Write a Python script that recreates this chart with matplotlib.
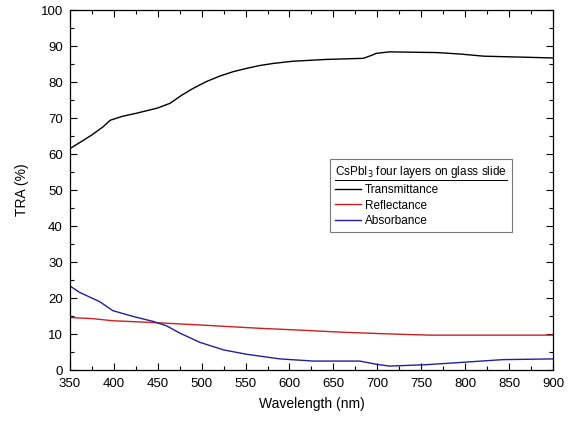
import matplotlib
matplotlib.use('Agg')
import matplotlib.pyplot as plt
from matplotlib.ticker import MultipleLocator

plt.rcParams['font.family'] = ['Liberation Sans', 'DejaVu Sans']

# Data
wl_t = [350, 362, 375, 388, 396, 410, 425, 450, 464, 477, 490, 505, 521, 536, 551, 566, 582, 604, 642, 684, 692, 699, 714, 740, 768, 794, 821, 870, 900]
trans = [61.5, 63.3, 65.3, 67.6, 69.4, 70.5, 71.3, 72.8, 74.1, 76.3, 78.2, 80.1, 81.7, 82.9, 83.8, 84.6, 85.2, 85.8, 86.3, 86.6, 87.3, 88.0, 88.4, 88.3, 88.2, 87.8, 87.2, 86.9, 86.7]

wl_r = [350, 375, 399, 445, 500, 566, 620, 661, 718, 760, 800, 850, 900]
refl = [14.6, 14.3, 13.7, 13.2, 12.5, 11.6, 11.0, 10.5, 10.0, 9.7, 9.7, 9.7, 9.7]

wl_a = [350, 361, 384, 399, 422, 445, 460, 475, 498, 525, 551, 589, 627, 680, 699, 714, 756, 794, 843, 900]
absb = [23.4, 21.6, 19.0, 16.5, 14.9, 13.5, 12.3, 10.3, 7.7, 5.6, 4.4, 3.1, 2.5, 2.5, 1.6, 1.1, 1.5, 2.1, 2.9, 3.1]

fig = plt.figure(figsize=(5.72, 4.21), dpi=100)
ax = fig.add_axes([0.122, 0.121, 0.845, 0.855])

ax.plot(wl_t, trans, color='black', lw=1, label='Transmittance')
ax.plot(wl_r, refl, color='#cc2020', lw=1, label='Reflectance')
ax.plot(wl_a, absb, color='#2020a0', lw=1, label='Absorbance')

ax.set_xlim(350, 900)
ax.set_ylim(0, 100)
ax.xaxis.set_major_locator(MultipleLocator(50))
ax.xaxis.set_minor_locator(MultipleLocator(25))
ax.yaxis.set_major_locator(MultipleLocator(10))
ax.yaxis.set_minor_locator(MultipleLocator(5))
ax.tick_params(which='both', direction='in', top=True, right=True, labelsize=9.5, width=0.8)
ax.tick_params(which='major', length=5)
ax.tick_params(which='minor', length=3)
ax.tick_params(axis='x', which='major', pad=6)
ax.tick_params(axis='y', which='major', pad=5)
for s in ax.spines.values():
    s.set_linewidth(0.9)

ax.set_xlabel('Wavelength (nm)', fontsize=10, labelpad=5)
ax.set_ylabel('TRA (%)', fontsize=10, labelpad=8)

leg = ax.legend(title=r'CsPbI$_3$ four layers on glass slide', loc='upper left',
                bbox_to_anchor=(0.538, 0.586), borderaxespad=0,
                fontsize=8.5, title_fontsize=8.5,
                frameon=True, fancybox=False, edgecolor='#555555',
                handlelength=2.2, handletextpad=0.3, labelspacing=0.3,
                borderpad=0.45, alignment='left')
leg.get_frame().set_linewidth(0.8)

# underline the legend title
fig.canvas.draw()
bb = leg.get_title().get_window_extent().transformed(fig.transFigure.inverted())
fig.add_artist(plt.Line2D([bb.x0, bb.x1], [bb.y0 + 0.002, bb.y0 + 0.002],
                          transform=fig.transFigure, color='black', lw=0.7))

fig.savefig('out.png', dpi=100)
